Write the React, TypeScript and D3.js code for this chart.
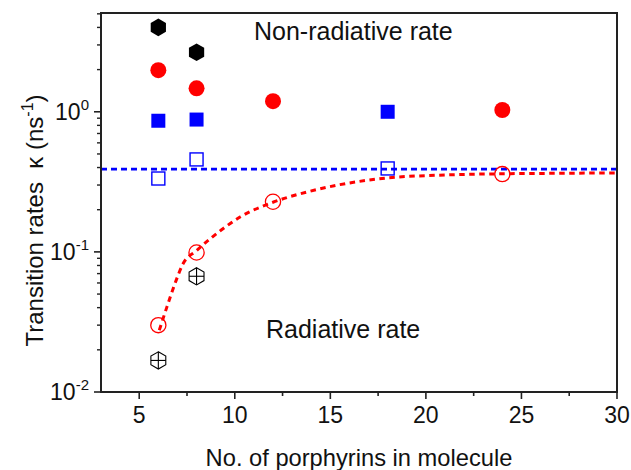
import React from "react";
import * as d3 from "d3";

// ---- data ----
const nonRadHexX = [6, 8];
const nonRadHexY = [4.0, 2.66];
const nonRadCircleX = [6, 8, 12, 24];
const nonRadCircleY = [1.98, 1.47, 1.19, 1.03];
const nonRadSquareX = [6, 8, 18];
const nonRadSquareY = [0.863, 0.88, 1.0];
const radSquareX = [6, 8, 18];
const radSquareY = [0.334, 0.457, 0.394];
const radCircleX = [6, 8, 12, 24];
const radCircleY = [0.03, 0.099, 0.228, 0.359];
const radHexX = [6, 8];
const radHexY = [0.0168, 0.067];
const blueLineLevel = 0.39;
const fitX = [6.05, 6.45, 6.9, 7.3, 8, 9.4, 10.3, 12, 13.8, 15.5, 18, 21, 24, 27, 30];
const fitY = [0.0276, 0.0405, 0.061, 0.0826, 0.102, 0.147, 0.178, 0.226, 0.268, 0.302, 0.337, 0.354, 0.361, 0.364, 0.366];
const xTicks = [5, 10, 15, 20, 25, 30];
const xMinorTicks = [7.5, 12.5, 17.5, 22.5, 27.5];
const yTicks = [0.01, 0.1, 1];
const yTickExp = ["-2", "-1", "0"];

const W = 631;
const H = 470;
const M = { left: 101, top: 13, right: 14, bottom: 78 };
const FONT = "'Liberation Sans', Arial, sans-serif";

function hexPath(cx: number, cy: number, r: number) {
  const pts: [number, number][] = [];
  for (let i = 0; i < 6; i++) {
    const a = -Math.PI / 2 + (i * Math.PI) / 3;
    pts.push([cx + r * Math.cos(a), cy + r * Math.sin(a)]);
  }
  return "M" + pts.map((p) => p.join(",")).join("L") + "Z";
}

export default function App() {
  const x = d3.scaleLinear().domain([3, 30]).range([M.left, W - M.right]);
  const y = d3.scaleLog().domain([0.01, 5.07]).range([H - M.bottom, M.top]);
  const x0 = M.left, x1 = W - M.right, y0 = H - M.bottom, y1 = M.top;

  const yMinor: number[] = [];
  [0.01, 0.1, 1].forEach((d) => {
    for (let k = 2; k <= 9; k++) {
      const v = d * k;
      if (v <= 5.07) yMinor.push(v);
    }
  });

  const fitLine = d3
    .line<number>()
    .x((_, i) => x(fitX[i]))
    .y((d) => y(d))
    .curve(d3.curveMonotoneX)(fitY) as string;

  const axisColor = "#222";

  return (
    <svg
      width={W}
      height={H}
      style={{ position: "absolute", left: 0, top: 0, background: "#fff" }}
      fontFamily={FONT}
    >
      <rect x={0} y={0} width={W} height={H} fill="#fff" />
      {/* blue dashed line */}
      <line
        x1={x0}
        x2={x1}
        y1={y(blueLineLevel)}
        y2={y(blueLineLevel)}
        stroke="#0000ff"
        strokeWidth={2.8}
        strokeDasharray="6,4"
      />
      {/* red fit */}
      <path d={fitLine} fill="none" stroke="#ff0000" strokeWidth={3} strokeDasharray="5.5,4.5" />

      {/* markers */}
      {nonRadHexX.map((d, i) => (
        <path key={"h" + i} d={hexPath(x(d), y(nonRadHexY[i]), 8.8)} fill="#000" />
      ))}
      {nonRadCircleX.map((d, i) => (
        <circle key={"c" + i} cx={x(d)} cy={y(nonRadCircleY[i])} r={8} fill="#ff0000" />
      ))}
      {nonRadSquareX.map((d, i) => (
        <rect key={"s" + i} x={x(d) - 7} y={y(nonRadSquareY[i]) - 7} width={14} height={14} fill="#0000ff" />
      ))}
      {radSquareX.map((d, i) => (
        <rect
          key={"os" + i}
          x={x(d) - 6.5}
          y={y(radSquareY[i]) - 6.5}
          width={13}
          height={13}
          fill="none"
          stroke="#0000ff"
          strokeWidth={1.4}
        />
      ))}
      {radCircleX.map((d, i) => (
        <circle
          key={"oc" + i}
          cx={x(d)}
          cy={y(radCircleY[i])}
          r={7.6}
          fill="none"
          stroke="#ff0000"
          strokeWidth={1.3}
        />
      ))}
      {radHexX.map((d, i) => {
        const cx = x(d), cy = y(radHexY[i]), r = 8.6;
        return (
          <g key={"oh" + i} stroke="#000" strokeWidth={1.1} fill="none">
            <path d={hexPath(cx, cy, r)} />
            <line x1={cx} x2={cx} y1={cy - r} y2={cy + r} />
            <line x1={cx - r * 0.866} x2={cx + r * 0.866} y1={cy} y2={cy} />
          </g>
        );
      })}

      {/* frame */}
      <rect x={x0} y={y1} width={x1 - x0} height={y0 - y1} fill="none" stroke={axisColor} strokeWidth={2} />

      {/* x ticks */}
      {xTicks.map((t) => (
        <g key={"xt" + t}>
          <line x1={x(t)} x2={x(t)} y1={y0} y2={y0 + 7} stroke={axisColor} strokeWidth={1.6} />
          <text x={x(t)} y={423} textAnchor="middle" fontSize={23} fill="#111">
            {t}
          </text>
        </g>
      ))}
      {xMinorTicks.map((t) => (
        <line key={"xm" + t} x1={x(t)} x2={x(t)} y1={y0} y2={y0 + 4} stroke={axisColor} strokeWidth={1.6} />
      ))}

      {/* y ticks */}
      {yTicks.map((t, i) => (
        <g key={"yt" + t}>
          <line x1={x0 - 7} x2={x0} y1={y(t)} y2={y(t)} stroke={axisColor} strokeWidth={1.6} />
          <text x={89} y={y(t) + 8.3} textAnchor="end" fontSize={23} fill="#111">
            10
            <tspan fontSize={15} dy={-10.5}>
              {yTickExp[i]}
            </tspan>
          </text>
        </g>
      ))}
      {yMinor.map((t, i) => (
        <line key={"ym" + i} x1={x0 - 4} x2={x0} y1={y(t)} y2={y(t)} stroke={axisColor} strokeWidth={1.4} />
      ))}

      {/* annotations */}
      <text x={254} y={40} fontSize={25} fill="#111">
        Non-radiative rate
      </text>
      <text x={266} y={338} fontSize={25} fill="#111">
        Radiative rate
      </text>

      {/* axis titles */}
      <text x={(x0 + x1) / 2} y={466} textAnchor="middle" fontSize={23.7} fill="#111">
        No. of porphyrins in molecule
      </text>
      <text
        transform={`translate(43,${(y0 + y1) / 2 + 18}) rotate(-90)`}
        textAnchor="middle"
        fontSize={24}
        fill="#111"
      >
        Transition rates {"\u00a0"}κ (ns
        <tspan fontSize={16} dy={-10}>
          -1
        </tspan>
        <tspan dy={10}>)</tspan>
      </text>
    </svg>
  );
}
